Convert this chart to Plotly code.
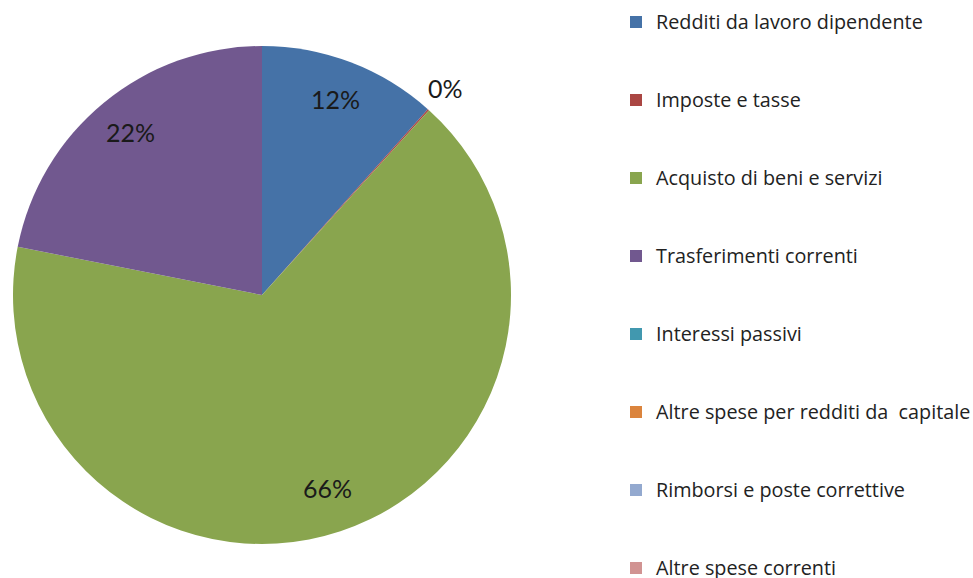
import math
import plotly.graph_objects as go

# ---- data ----
categories = [
    "Redditi da lavoro dipendente",
    "Imposte e tasse",
    "Acquisto di beni e servizi",
    "Trasferimenti correnti",
    "Interessi passivi",
    "Altre spese per redditi da  capitale",
    "Rimborsi e poste correttive",
    "Altre spese correnti",
]
values = [11.6, 0.1, 66.4, 21.9, 0, 0, 0, 0]
show_label = [True, True, True, True, False, False, False, False]
colors = ["#4572A7", "#AA4643", "#89A54E", "#71588F",
          "#4198AF", "#DB843D", "#93A9CF", "#D19392"]

# ---- geometry / style ----
W, H = 973, 578
CX, CY, R = 262, 295, 249
LEG_FS = 19.23
LEG_TEXT_FS = 19.8
FONT = "Open Sans"

legend_labels = [
    f" <br><span style='font-size:{LEG_TEXT_FS}px'>{c}</span><br> " for c in categories
]

fig = go.Figure(go.Pie(
    labels=legend_labels,
    values=values,
    marker=dict(colors=colors, line=dict(width=0)),
    sort=False,
    direction="clockwise",
    rotation=0,
    textinfo="none",
    hoverinfo="percent",
    domain=dict(x=[(CX - R) / W, (CX + R) / W], y=[1 - (CY + R) / H, 1 - (CY - R) / H]),
))

# percent labels, placed from the slice angles
total = sum(values)
annotations = []
cum = 0.0
for v, show in zip(values, show_label):
    a0 = cum / total * 2 * math.pi
    cum += v
    a1 = cum / total * 2 * math.pi
    mid = (a0 + a1) / 2
    frac = v / total
    rr = R * (0.83 if frac > 0.05 else 1.1)
    if show:
        px = CX + rr * math.sin(mid)
        py = CY - rr * math.cos(mid)
        annotations.append(dict(
            x=px / W, y=1 - py / H, xref="paper", yref="paper",
            text=f"{round(frac * 100)}%", showarrow=False,
            xanchor="center", yanchor="middle", yshift=3,
            font=dict(family="Lato", size=25, color="#1a1a1a"),
        ))

fig.update_layout(
    width=W, height=H,
    margin=dict(l=0, r=0, t=0, b=0, autoexpand=False),
    paper_bgcolor="white", plot_bgcolor="white",
    annotations=annotations,
    showlegend=True,
    legend=dict(
        x=616 / W, y=1 + 22 / H, xanchor="left", yanchor="top",
        font=dict(family=FONT, size=LEG_FS, color="#222222"),
        bgcolor="rgba(0,0,0,0)", maxheight=1000,
        traceorder="normal",
    ),
)

fig.write_html("out.html", config={"displayModeBar": False},
               post_script="document.body.style.margin='0';")
